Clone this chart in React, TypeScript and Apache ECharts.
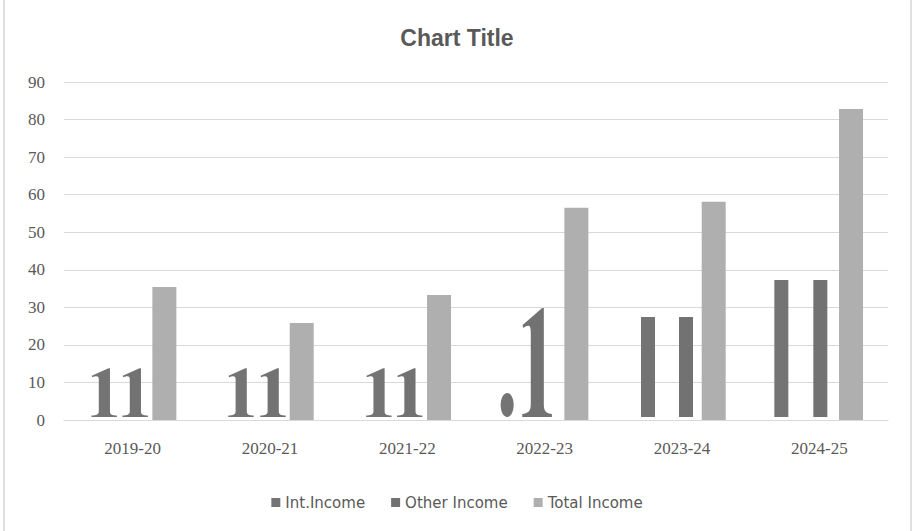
import React, { useEffect, useRef } from 'react';
import * as echarts from 'echarts';

const categories = ['2019-20', '2020-21', '2021-22', '2022-23', '2023-24', '2024-25'];
const intIncome = [13.8, 13.8, 13.8, 7.2, 27.4, 37.3];
const otherIncome = [13.8, 13.8, 13.8, 29.8, 27.4, 37.3];
const totalIncome = [35.4, 25.8, 33.3, 56.5, 58.1, 82.8];
const seriesNames = ['Int.Income', 'Other Income', 'Total Income'];
const yMin = 0;
const yMax = 90;
const yInterval = 10;

// drawing style (not data)
const intShape = ['one', 'one', 'one', 'dot', 'bar', 'bar'];
const otherShape = ['one', 'one', 'one', 'one', 'bar', 'bar'];
const intOffset = [-28.5, -29, -28.5, -37.5, -34, -38];
const otherOffset = [2.5, 3, 2.4, -7.6, 4, 1];
const totalOffset = 31.7;
const DARK = '#747474';
const DARK2 = '#727272';
const LIGHT = '#afafaf';
const TEXT = '#595959';
const GRID = '#d9d9d9';

const ONE_PATH =
  'M0,49 L25,49 L25,47.6 C20.5,47.4 18.2,46.6 18.2,43.5 L18.2,0 L16.8,0 L0.3,7.6 L0.8,9 C2.5,8.4 4,8 5,8 C6.4,8 7.2,8.8 7.2,11 L7.2,43.5 C7.2,46.6 4.5,47.4 0,47.6 Z';

function makeRender(shapes: string[] | null, offsets: number[] | number, color: string) {
  return (params: any, api: any) => {
    const idx = params.dataIndex;
    const i = api.value(0);
    const v = api.value(1);
    const basePt = api.coord([i, 0]);
    const topPt = api.coord([i, v]);
    const off = typeof offsets === 'number' ? offsets : offsets[idx];
    const cx = basePt[0] + off;
    if (!shapes) {
      return {
        type: 'rect',
        shape: { x: cx - 12, y: topPt[1], width: 24, height: basePt[1] - topPt[1] },
        style: { fill: color },
      };
    }
    const bottom = basePt[1] - 3;
    const h = bottom - topPt[1];
    const kind = shapes[idx];
    if (kind === 'one') {
      const w = 22 + 0.07 * h;
      return {
        type: 'path',
        shape: { pathData: ONE_PATH, x: cx - w / 2, y: topPt[1], width: w, height: h, layout: 'cover' },
        style: { fill: color },
      };
    }
    if (kind === 'dot') {
      return {
        type: 'ellipse',
        shape: { cx, cy: topPt[1] + h / 2, rx: 6.5, ry: h / 2 },
        style: { fill: color },
      };
    }
    return {
      type: 'rect',
      shape: { x: cx - 7, y: topPt[1], width: 14, height: h },
      style: { fill: color },
    };
  };
}

export default function App() {
  const ref = useRef<HTMLDivElement>(null);
  useEffect(() => {
    if (!ref.current) return;
    const chart = echarts.init(ref.current, null, { renderer: 'svg' });
    const toData = (arr: number[]) => arr.map((v, i) => [i, v]);
    chart.setOption({
      animation: false,
      backgroundColor: '#ffffff',
      title: {
        text: 'Chart Title',
        left: 'center',
        top: 21,
        textStyle: { fontFamily: 'Liberation Sans', fontSize: 23, fontWeight: 'bold', color: TEXT },
      },
      legend: {
        data: seriesNames,
        bottom: 16,
        left: 'center',
        icon: 'rect',
        itemWidth: 9,
        itemHeight: 9,
        itemGap: 26,
        textStyle: { fontFamily: 'DejaVu Sans', fontSize: 15, color: TEXT },
      },
      grid: { left: 64, right: 26, top: 82, bottom: 111, containLabel: false },
      xAxis: {
        type: 'category',
        data: categories,
        axisLine: { show: true, lineStyle: { color: GRID, width: 1 } },
        axisTick: { show: false },
        axisLabel: { fontFamily: 'Liberation Serif', fontSize: 17, color: TEXT, margin: 20 },
      },
      yAxis: {
        type: 'value',
        min: yMin,
        max: yMax,
        interval: yInterval,
        axisLine: { show: false },
        axisTick: { show: false },
        splitLine: { lineStyle: { color: GRID, width: 1 } },
        axisLabel: { fontFamily: 'Liberation Serif', fontSize: 17, color: TEXT, margin: 19 },
      },
      graphic: [
        { type: 'rect', shape: { x: 3, y: 0, width: 2, height: 531 }, style: { fill: '#e0e0e0' } },
        { type: 'rect', shape: { x: 910, y: 0, width: 2, height: 531 }, style: { fill: '#e0e0e0' } },
      ],
      series: [
        {
          name: seriesNames[0],
          type: 'custom',
          itemStyle: { color: DARK },
          encode: { x: 0, y: 1 },
          data: toData(intIncome),
          renderItem: makeRender(intShape, intOffset, DARK),
        },
        {
          name: seriesNames[1],
          type: 'custom',
          itemStyle: { color: DARK2 },
          encode: { x: 0, y: 1 },
          data: toData(otherIncome),
          renderItem: makeRender(otherShape, otherOffset, DARK2),
        },
        {
          name: seriesNames[2],
          type: 'custom',
          itemStyle: { color: LIGHT },
          encode: { x: 0, y: 1 },
          data: toData(totalIncome),
          renderItem: makeRender(null, totalOffset, LIGHT),
        },
      ],
    });
    return () => chart.dispose();
  }, []);
  return (
    <div
      ref={ref}
      style={{ position: 'absolute', left: 0, top: 0, width: 914, height: 531 }}
    />
  );
}
